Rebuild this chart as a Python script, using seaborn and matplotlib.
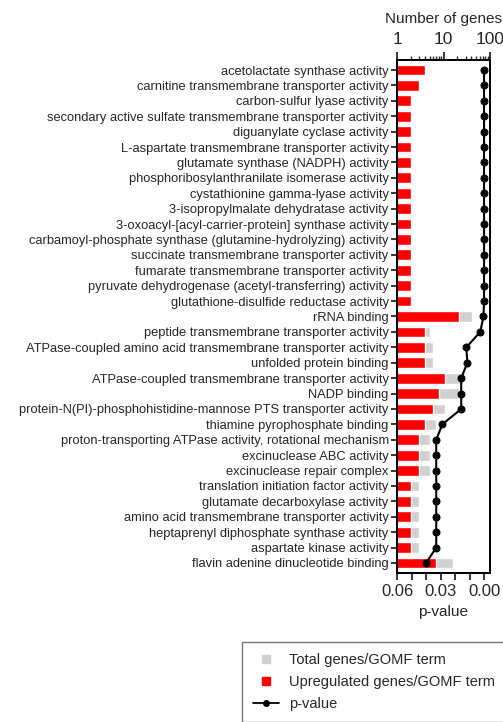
import numpy as np
import pandas as pd
import matplotlib
matplotlib.use("Agg")
import matplotlib.pyplot as plt
from matplotlib.lines import Line2D
from matplotlib.ticker import LogLocator, NullFormatter
import seaborn as sns

# Datos
terms = [
    "acetolactate synthase activity",
    "carnitine transmembrane transporter activity",
    "carbon-sulfur lyase activity",
    "secondary active sulfate transmembrane transporter activity",
    "diguanylate cyclase activity",
    "L-aspartate transmembrane transporter activity",
    "glutamate synthase (NADPH) activity",
    "phosphoribosylanthranilate isomerase activity",
    "cystathionine gamma-lyase activity",
    "3-isopropylmalate dehydratase activity",
    "3-oxoacyl-[acyl-carrier-protein] synthase activity",
    "carbamoyl-phosphate synthase (glutamine-hydrolyzing) activity",
    "succinate transmembrane transporter activity",
    "fumarate transmembrane transporter activity",
    "pyruvate dehydrogenase (acetyl-transferring) activity",
    "glutathione-disulfide reductase activity",
    "rRNA binding",
    "peptide transmembrane transporter activity",
    "ATPase-coupled amino acid transmembrane transporter activity",
    "unfolded protein binding",
    "ATPase-coupled transmembrane transporter activity",
    "NADP binding",
    "protein-N(PI)-phosphohistidine-mannose PTS transporter activity",
    "thiamine pyrophosphate binding",
    "proton-transporting ATPase activity, rotational mechanism",
    "excinuclease ABC activity",
    "excinuclease repair complex",
    "translation initiation factor activity",
    "glutamate decarboxylase activity",
    "amino acid transmembrane transporter activity",
    "heptaprenyl diphosphate synthase activity",
    "aspartate kinase activity",
    "flavin adenine dinucleotide binding",
]

upregulated = [4, 3, 2, 2, 2, 2, 2, 2, 2, 2, 2, 2, 2, 2, 2, 2,
               22, 4, 4, 4, 11, 8, 6, 4, 3, 3, 3, 2, 2, 2, 2, 2, 7]

total = [4, 3, 2, 2, 2, 2, 2, 2, 2, 2, 2, 2, 2, 2, 2, 2,
         42, 5, 6, 6, 23, 22, 11, 7, 5, 5, 5, 3, 3, 3, 3, 3, 16]

pvalues = [0.0001, 0.0001, 0.0001, 0.0001, 0.0001, 0.0001, 0.0001, 0.0001,
           0.0001, 0.0001, 0.0001, 0.0001, 0.0001, 0.0001, 0.0001, 0.0001,
           0.0005, 0.0027, 0.0123, 0.0116, 0.0158, 0.0158, 0.0158, 0.0288,
           0.033, 0.033, 0.033, 0.033, 0.033, 0.033, 0.033, 0.033, 0.040]

df = pd.DataFrame({"Term": terms, "Total": total, "Up": upregulated,
                   "p": pvalues, "pos": range(len(terms))})

sns.set_style("white")
plt.rcParams["font.family"] = ["Liberation Sans", "DejaVu Sans"]

fig = plt.figure(figsize=(5.03, 7.22), dpi=100)
ax = fig.add_axes([397 / 503, 1 - 573 / 722, 93 / 503, 513 / 722])

# Barras (escala log arriba)
ax.set_xscale("log")
sns.barplot(data=df, x="Total", y="Term", color="#d0d0d0", orient="h",
            width=0.7, ax=ax, saturation=1)
sns.barplot(data=df, x="Up", y="Term", color="#ff0000", orient="h",
            width=0.7, ax=ax, saturation=1)
ax.set_ylabel("")

# Linea p-value (abajo)
ax2 = ax.twiny()
sns.lineplot(data=df, x="p", y="pos", sort=False, estimator=None,
             color="black", marker="o", markersize=5, linewidth=1.5,
             markeredgecolor="black", ax=ax2)
ax2.set_xlim(0.06, -0.004)
ax2.set_xticks([0.06, 0.03, 0.0], ["0.06", "0.03", "0.00"])
ax2.set_xticks([0.05, 0.04, 0.02, 0.01], minor=True)
ax2.xaxis.set_ticks_position("bottom")
ax2.xaxis.set_label_position("bottom")
ax2.set_xlabel("p-value", fontsize=11, labelpad=4)
ax2.set_ylabel("")
ax2.tick_params(axis="x", which="both", length=5, width=1.3, labelsize=12, pad=3)

# ejes de arriba (despues de twiny)
ax.set_xlim(1, 100)
ax.set_xticks([1, 10, 100], ["1", "10", "100"])
ax.xaxis.set_minor_locator(LogLocator(base=10, subs=np.arange(2, 10)))
ax.xaxis.set_minor_formatter(NullFormatter())
ax.xaxis.set_ticks_position("top")
ax.xaxis.set_label_position("top")
ax.set_xlabel("Number of genes", fontsize=11, labelpad=7)
ax.tick_params(axis="x", which="major", length=6, width=1.3, labelsize=12.5, pad=3)
ax.tick_params(axis="x", which="minor", length=3, width=1.0)
ax.tick_params(axis="y", length=4, width=1.3, labelsize=9.3, pad=2, left=True)
ax.set_ylim(len(terms) - 0.35, -0.65)

for a in (ax, ax2):
    for s in a.spines.values():
        s.set_linewidth(1.4)
        s.set_color("black")

# Leyenda
handles = [
    Line2D([], [], marker="s", linestyle="none", color="#d0d0d0", markersize=6),
    Line2D([], [], marker="s", linestyle="none", color="#ff0000", markersize=6),
    Line2D([], [], marker="o", color="black", markersize=4, linewidth=1.3),
]
labels = ["Total genes/GOMF term", "Upregulated genes/GOMF term", "p-value"]
leg = fig.legend(handles, labels, loc="upper left",
                 bbox_to_anchor=(242 / 503, 1 - 642 / 722), borderaxespad=0,
                 frameon=True, fancybox=False, edgecolor="#555555",
                 fontsize=10.5, handlelength=1.8, handletextpad=0.7,
                 labelspacing=0.55, borderpad=0.75)
leg.get_frame().set_linewidth(1.0)

plt.savefig("out.png", dpi=100)
